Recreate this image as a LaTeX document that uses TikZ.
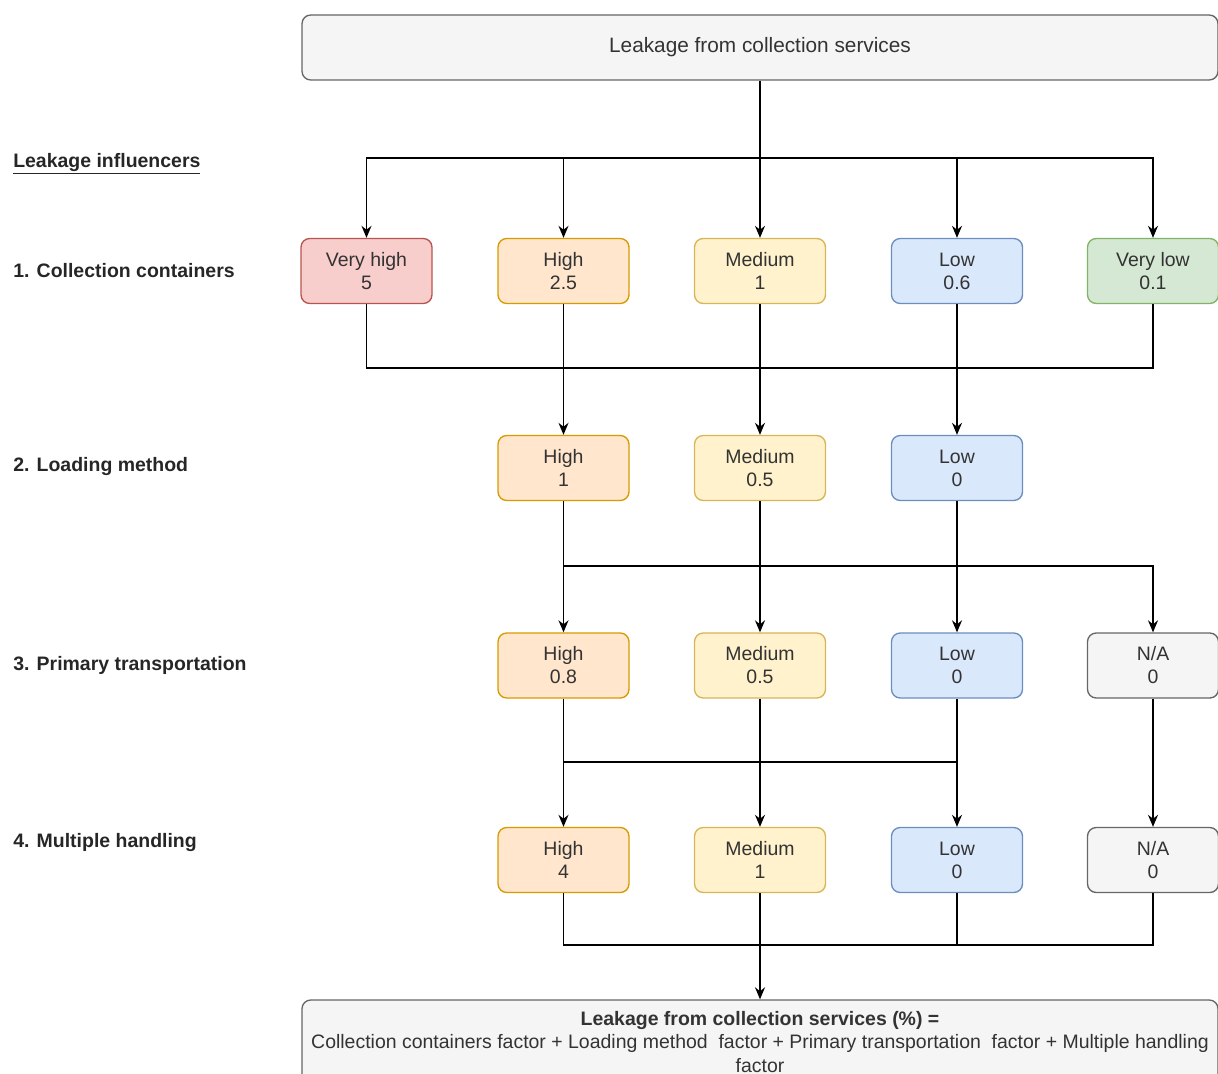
\documentclass[tikz,border=0pt]{standalone}
\usepackage{fontspec}
\setmainfont{Liberation Sans}
\usetikzlibrary{arrows.meta,calc}
\definecolor{txt}{HTML}{333333}
\definecolor{vhF}{HTML}{F8CECC}\definecolor{vhD}{HTML}{B85450}
\definecolor{hF}{HTML}{FFE6CC}\definecolor{hD}{HTML}{D79B00}
\definecolor{mF}{HTML}{FFF2CC}\definecolor{mD}{HTML}{D6B656}
\definecolor{lF}{HTML}{DAE8FC}\definecolor{lD}{HTML}{6C8EBF}
\definecolor{vlF}{HTML}{D5E8D4}\definecolor{vlD}{HTML}{82B366}
\definecolor{gF}{HTML}{F5F5F5}\definecolor{gD}{HTML}{666666}
\begin{document}
\begin{tikzpicture}[x=0.75pt,y=-0.75pt,
  nodefont/.style={font=\fontsize{14.6}{17.3}\selectfont},
  box/.style={draw, rounded corners=6.5pt, line width=1pt, minimum width=98.25pt,
    minimum height=48.75pt, align=center, text=txt, inner sep=0pt, nodefont},
  vh/.style={box, fill=vhF, draw=vhD},
  hi/.style={box, fill=hF, draw=hD},
  me/.style={box, fill=mF, draw=mD},
  lo/.style={box, fill=lF, draw=lD},
  vl/.style={box, fill=vlF, draw=vlD},
  na/.style={box, fill=gF, draw=gD},
  bigbox/.style={draw=gD, fill=gF, rounded corners=6.5pt, line width=1pt,
    minimum width=687pt, align=center, text=txt, inner sep=0pt, nodefont},
  lab/.style={anchor=west, inner sep=0pt, text=black!85, font=\fontsize{14.6}{17.3}\selectfont\bfseries},
  line/.style={draw=black, line width=1.1pt},
  arr/.style={line, -{Stealth[length=9pt,width=7.5pt]}}
]
\useasboundingbox (0,0) rectangle (1218,1074);

% top and bottom boxes
\node[bigbox, minimum height=48.75pt, font=\fontsize{15.6}{18}\selectfont] (top) at (760,47.5) {Leakage from collection services};
\node[bigbox, minimum height=63pt] (bot) at (760,1042) {\textbf{Leakage from collection services (\%) =}\\Collection containers factor + Loading method\ \ factor + Primary transportation\ \ factor + Multiple handling\\factor};

% left labels
\node[lab] (l0) at (13,164) {\underline{Leakage influencers}};
\node[lab] (l1) at (13,270.5) {1. Collection containers};
\node[lab] (l2) at (13,467) {2. Loading method};
\node[lab] (l3) at (13,665) {3. Primary transportation};
\node[lab] (l4) at (13,843) {4. Multiple handling};

% row 1
\node[vh] (r1a) at (366.5,271) {Very high\\5};
\node[hi] (r1b) at (563.5,271) {High\\2.5};
\node[me] (r1c) at (760,271) {Medium\\1};
\node[lo] (r1d) at (957,271) {Low\\0.6};
\node[vl] (r1e) at (1153,271) {Very low\\0.1};

% row 2
\node[hi] (r2a) at (563.5,468) {High\\1};
\node[me] (r2b) at (760,468) {Medium\\0.5};
\node[lo] (r2c) at (957,468) {Low\\0};

% row 3
\node[hi] (r3a) at (563.5,665.5) {High\\0.8};
\node[me] (r3b) at (760,665.5) {Medium\\0.5};
\node[lo] (r3c) at (957,665.5) {Low\\0};
\node[na] (r3d) at (1153,665.5) {N/A\\0};

% row 4
\node[hi] (r4a) at (563.5,860) {High\\4};
\node[me] (r4b) at (760,860) {Medium\\1};
\node[lo] (r4c) at (957,860) {Low\\0};
\node[na] (r4d) at (1153,860) {N/A\\0};

% bus levels
\coordinate (bus0) at (0,158);
\coordinate (bus1) at (0,368);
\coordinate (bus2) at (0,566);
\coordinate (bus3) at (0,762);
\coordinate (bus4) at (0,945);

% top -> row 1
\draw[line] (top.south) -- (top.south |- bus0);
\foreach \n in {r1a,r1b,r1c,r1d,r1e}
  \draw[arr] (top.south |- bus0) -| (\n.north);

% row 1 -> row 2
\draw[line] (r1a.south) |- (r1e.south |- bus1) -- (r1e.south);
\draw[arr] (r1b.south) -- (r2a.north);
\draw[arr] (r1c.south) -- (r2b.north);
\draw[arr] (r1d.south) -- (r2c.north);

% row 2 -> row 3
\draw[arr] (r2a.south) |- (r3d.north |- bus2) -- (r3d.north);
\draw[arr] (r2a.south) -- (r3a.north);
\draw[arr] (r2b.south) -- (r3b.north);
\draw[arr] (r2c.south) -- (r3c.north);

% row 3 -> row 4
\draw[line] (r3a.south) |- (r3c.south |- bus3);
\draw[arr] (r3a.south) -- (r4a.north);
\draw[arr] (r3b.south) -- (r4b.north);
\draw[arr] (r3c.south) -- (r4c.north);
\draw[arr] (r3d.south) -- (r4d.north);

% row 4 -> bottom
\draw[line] (r4a.south) |- (r4d.south |- bus4) -- (r4d.south);
\draw[line] (r4c.south) -- (r4c.south |- bus4);
\draw[arr] (r4b.south) -- (r4b.south |- bot.north);
\end{tikzpicture}
\end{document}
